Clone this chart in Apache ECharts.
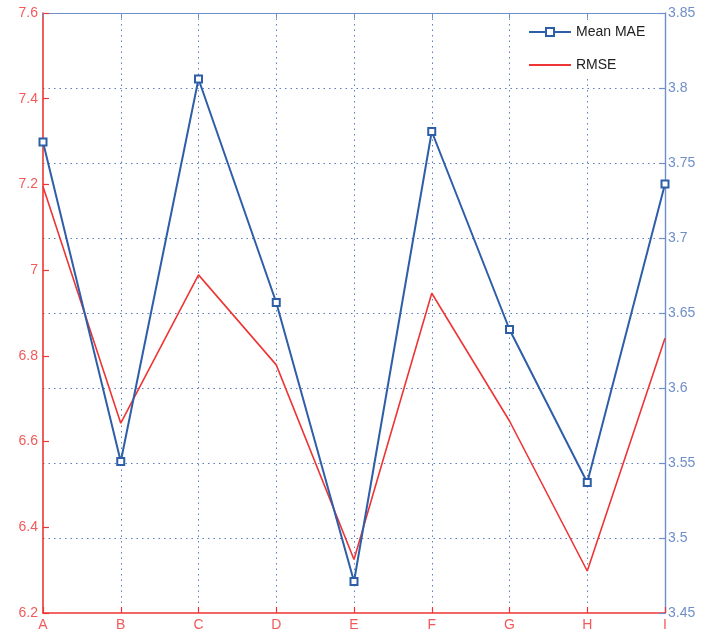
<!DOCTYPE html>
<html>
<head>
<meta charset="utf-8">
<script src="https://cdn.jsdelivr.net/npm/echarts@6/dist/echarts.min.js"></script>
<style>
html,body{margin:0;padding:0;background:#fff;}
#chart{width:702px;height:637px;}
</style>
</head>
<body>
<div id="chart"></div>
<script>
const categories = ['A','B','C','D','E','F','G','H','I'];
const meanMAE = [3.764, 3.551, 3.806, 3.657, 3.471, 3.771, 3.639, 3.537, 3.736];
const rmse = [7.195, 6.643, 6.989, 6.779, 6.325, 6.946, 6.648, 6.298, 6.841];

const RED = '#ee3535';
const RED_TXT = '#f25a5a';
const BLUE = '#2f5ea8';
const AXBLUE = '#6f8fc8';
const GRIDBLUE = '#5b7fc6';
const FONT = '"Liberation Sans", Arial, sans-serif';

const chart = echarts.init(document.getElementById('chart'));
chart.setOption({
  animation: false,
  backgroundColor: '#fff',
  grid: {left: 43, right: 37, top: 13, bottom: 24, show: false},
  legend: {
    orient: 'vertical', left: 522, top: 21, itemWidth: 42, itemHeight: 10, itemGap: 19,
    backgroundColor: '#fff', padding: [4, 6, 6, 6],
    textStyle: {color: '#222', fontSize: 14, fontFamily: FONT},
    data: [
      {name: 'Mean MAE'},
      {name: 'RMSE', itemStyle: {opacity: 0}}
    ]
  },
  xAxis: [
    {
      type: 'category', data: categories, boundaryGap: false, position: 'bottom',
      axisLine: {lineStyle: {color: RED, width: 1.6}},
      axisTick: {inside: true, length: 6, lineStyle: {color: RED, width: 1.2}},
      axisLabel: {color: RED_TXT, fontSize: 14, fontFamily: FONT, margin: 5},
      splitLine: {show: true, showMinLine: false, showMaxLine: false,
        lineStyle: {color: GRIDBLUE, type: [1.5, 4], width: 1}}
    },
    {
      type: 'category', data: categories, boundaryGap: false, position: 'top',
      axisLine: {show: true, lineStyle: {color: AXBLUE, width: 1.2}},
      axisTick: {show: true, inside: true, length: 5, lineStyle: {color: AXBLUE}},
      axisLabel: {show: false},
      splitLine: {show: false}
    }
  ],
  yAxis: [
    {
      type: 'value', min: 6.2, max: 7.6, interval: 0.2, position: 'left',
      axisLine: {show: true, lineStyle: {color: RED, width: 1.6}},
      axisTick: {show: true, inside: true, length: 6, lineStyle: {color: RED, width: 1.2}},
      axisLabel: {color: RED_TXT, fontSize: 14, fontFamily: FONT, margin: 5,
        formatter: v => String(parseFloat(v.toFixed(1)))},
      splitLine: {show: false}
    },
    {
      type: 'value', min: 3.45, max: 3.85, interval: 0.05, position: 'right',
      axisLine: {show: true, lineStyle: {color: AXBLUE, width: 1.4}},
      axisTick: {show: true, inside: true, length: 6, lineStyle: {color: AXBLUE, width: 1.2}},
      axisLabel: {color: AXBLUE, fontSize: 14, fontFamily: FONT, margin: 3,
        formatter: v => String(parseFloat(v.toFixed(2)))},
      splitLine: {show: true, showMaxLine: false, showMinLine: false,
        lineStyle: {color: GRIDBLUE, type: [1.5, 4], width: 1}}
    }
  ],
  series: [
    {
      name: 'Mean MAE', type: 'line', xAxisIndex: 0, yAxisIndex: 1, data: meanMAE,
      symbol: 'rect', symbolSize: 7, showAllSymbol: true,
      lineStyle: {color: BLUE, width: 2},
      itemStyle: {color: '#fff', borderColor: BLUE, borderWidth: 2},
      z: 3
    },
    {
      name: 'RMSE', type: 'line', xAxisIndex: 0, yAxisIndex: 0, data: rmse,
      symbol: 'none',
      lineStyle: {color: RED, width: 1.6},
      itemStyle: {color: RED},
      z: 2
    }
  ]
});
</script>
</body>
</html>
